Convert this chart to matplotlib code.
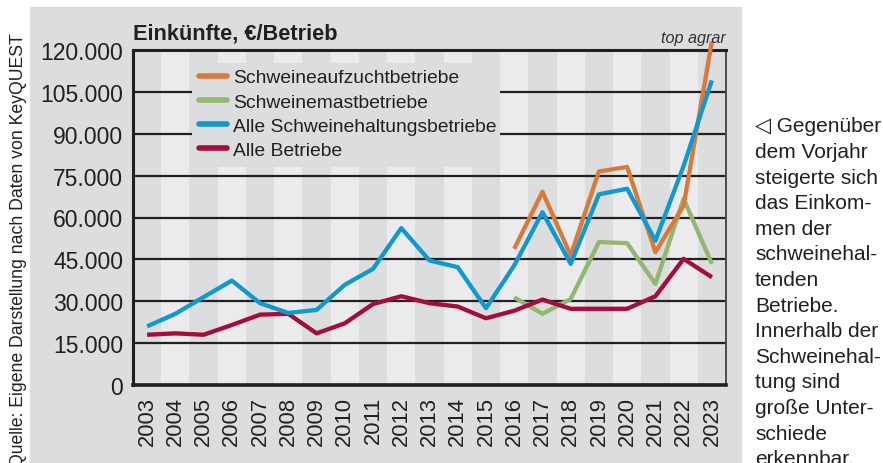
import numpy as np
import matplotlib
matplotlib.use("Agg")
import matplotlib.pyplot as plt
from matplotlib.patches import Rectangle

plt.rcParams['font.family'] = ['Liberation Sans', 'DejaVu Sans']

years = list(range(2003, 2024))
years_pig = list(range(2016, 2024))

alle_betriebe = [18000, 18500, 18000, 21500, 25200, 25500, 18500, 22100, 29000, 31800,
                 29300, 28100, 23900, 26600, 30600, 27300, 27300, 27300, 31800, 45200, 38600]
alle_schwein = [21000, 25500, 31500, 37400, 29300, 25800, 26900, 35900, 41600, 56200,
                44600, 42200, 27500, 42800, 61900, 43400, 68300, 70300, 51700, 78500, 109100]
aufzucht = [48800, 69200, 46400, 76500, 78100, 47600, 64300, 123100]
mast = [31400, 25500, 30800, 51200, 50800, 36200, 66700, 43400]

labels = ["Schweineaufzuchtbetriebe", "Schweinemastbetriebe",
          "Alle Schweinehaltungsbetriebe", "Alle Betriebe"]
colors = ["#d9793a", "#92b86f", "#0f99cf", "#a50d3a"]

side_text = ["\u25c1 Gegenüber", "dem Vorjahr", "steigerte sich", "das Einkom-", "men der",
             "schweinehal-", "tenden", "Betriebe.", "Innerhalb der", "Schweinehal-",
             "tung sind", "große Unter-", "schiede", "erkennbar."]

W, H = 883, 464
bg_dark = "#dcdddf"
bg_light = "#ebebed"
ink = "#231f20"

fig = plt.figure(figsize=(W / 100, H / 100), dpi=100)
fig.patch.set_facecolor("white")
fig.patches.append(Rectangle((30 / W, 0), (741 - 30) / W, 1 - 8 / H,
                             transform=fig.transFigure, color=bg_dark, zorder=-10))

ax = fig.add_axes([133 / W, 1 - 386 / H, (726 - 133) / W, (386 - 51) / H])
ax.set_facecolor(bg_dark)
for y in years:
    if y % 2 == 0:
        ax.axvspan(y - 0.5, y + 0.5, color=bg_light, lw=0, zorder=0.2)

ax.set_xlim(2002.5, 2023.5)
ax.set_ylim(0, 120000)
yt = np.arange(0, 120001, 15000)
ax.set_yticks(yt)
ax.set_yticklabels([f"{v:,}".replace(",", ".") for v in yt])
ax.set_xticks(years)
ax.set_xticklabels([str(y) for y in years], rotation=90)
ax.tick_params(axis='y', length=0, pad=7, labelsize=16.5, labelcolor=ink)
ax.tick_params(axis='x', length=0, pad=8, labelsize=15.8, labelcolor=ink)

ax.grid(axis='y', color=ink, lw=1.6, zorder=0.5)
ax.grid(axis='x', visible=False)
ax.set_axisbelow(True)

for side in ["left", "top"]:
    ax.spines[side].set_color(ink)
    ax.spines[side].set_linewidth(2.2)
ax.spines["bottom"].set_color(ink)
ax.spines["bottom"].set_linewidth(2.6)
ax.spines["right"].set_color("#4a4a4c")
ax.spines["right"].set_linewidth(1.4)

# legend backdrop hides the grid lines
ax.add_patch(Rectangle((2004.59, 78200), 2015.5 - 2004.59, 115500 - 78200,
                       color=bg_dark, lw=0, zorder=0.8))

lw = 3.1
h1, = ax.plot(years_pig, aufzucht, color=colors[0], lw=lw, zorder=3, clip_on=False,
              solid_capstyle='butt')
h2, = ax.plot(years_pig, mast, color=colors[1], lw=lw, zorder=2.5, solid_capstyle='butt')
h3, = ax.plot(years, alle_schwein, color=colors[2], lw=lw, zorder=3.2, clip_on=False,
              solid_capstyle='butt')
h4, = ax.plot(years, alle_betriebe, color=colors[3], lw=lw, zorder=2.8, solid_capstyle='butt')

leg = ax.legend([h1, h2, h3, h4], labels, loc='upper left',
                bbox_to_anchor=((196 - 133) / (726 - 133), 1 - (67 - 51) / (386 - 51)),
                frameon=False, fontsize=13.9, handlelength=1.45, handletextpad=0.3,
                labelspacing=0.35, borderaxespad=0, borderpad=0.15)
for t in leg.get_texts():
    t.set_color(ink)
for lh in leg.legend_handles:
    lh.set_linewidth(4)
    lh.set_solid_capstyle('round')

fig.text(133 / W, 1 - 34 / H, "Einkünfte, €/Betrieb", fontsize=15.7, fontweight='bold',
         color=ink, ha='left', va='center')
fig.text(726 / W, 1 - 38 / H, "top agrar", fontsize=11.7, style='italic',
         color="#333333", ha='right', va='center')
fig.text(19 / W, 1 - 33 / H, "Quelle: Eigene Darstellung nach Daten von KeyQUEST",
         rotation=90, fontsize=12.7, color=ink, ha='center', va='top')

for i, line in enumerate(side_text):
    fig.text(755 / W, 1 - (127 + i * 25.6) / H, line, fontsize=15, color=ink,
             ha='left', va='center')

fig.savefig("out.png", dpi=100, facecolor=fig.get_facecolor())
